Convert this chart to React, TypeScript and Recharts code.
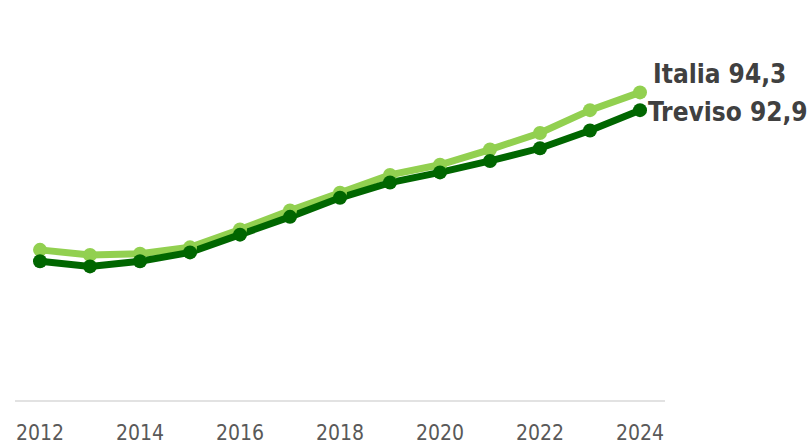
import { LineChart, Line, XAxis, YAxis, LabelList } from 'recharts';

// anni e valori
const years = [2012, 2013, 2014, 2015, 2016, 2017, 2018, 2019, 2020, 2021, 2022, 2023, 2024];
const italia = [81.9, 81.5, 81.6, 82.1, 83.5, 85.0, 86.4, 87.8, 88.6, 89.8, 91.1, 92.9, 94.3];
const treviso = [81.0, 80.6, 81.0, 81.7, 83.1, 84.5, 86.0, 87.2, 88.0, 88.9, 89.9, 91.3, 92.9];
const yearTicks = [2012, 2014, 2016, 2018, 2020, 2022, 2024];

const data = years.map((year, i) => ({ year, italia: italia[i], treviso: treviso[i] }));

const FONT = "'DejaVu Sans Condensed', 'Open Sans', sans-serif";
const LIGHT = '#92D050';
const DARK = '#006600';

// etichetta solo sull'ultimo punto
const endLabel = (name: string, dx: number, dy: number) => (props: any) => {
  const { x, y, index, value } = props;
  if (index !== years.length - 1) return null;
  return (
    <text
      x={x + dx}
      y={y + dy}
      fill="#404040"
      fontFamily={FONT}
      fontWeight="bold"
      fontSize={26}
    >
      {name} {String(value).replace('.', ',')}
    </text>
  );
};

export default function App() {
  return (
    <div style={{ position: 'fixed', left: 0, top: 0, background: '#fff' }}>
      <LineChart
        width={809}
        height={445}
        data={data}
        margin={{ top: 20, right: 144, left: 15, bottom: 0 }}
      >
        <XAxis
          dataKey="year"
          type="number"
          domain={[2011.5, 2024.5]}
          ticks={yearTicks}
          height={44}
          axisLine={{ stroke: '#D9D9D9', strokeWidth: 1.5 }}
          tickLine={false}
          tickSize={0}
          tickMargin={24}
          tick={{ fill: '#595959', fontSize: 21, fontFamily: FONT }}
        />
        <YAxis hide domain={[70, 100]} />

        {/* Italia */}
        <Line
          dataKey="italia"
          stroke={LIGHT}
          strokeWidth={7}
          dot={{ r: 7, fill: LIGHT, stroke: 'none' }}
          activeDot={false}
          isAnimationActive={false}
        >
          <LabelList dataKey="italia" content={endLabel('Italia', 13, -9)} />
        </Line>

        {/* Treviso */}
        <Line
          dataKey="treviso"
          stroke={DARK}
          strokeWidth={7}
          dot={{ r: 7, fill: DARK, stroke: 'none' }}
          activeDot={false}
          isAnimationActive={false}
        >
          <LabelList dataKey="treviso" content={endLabel('Treviso', 8, 11)} />
        </Line>
      </LineChart>
    </div>
  );
}
